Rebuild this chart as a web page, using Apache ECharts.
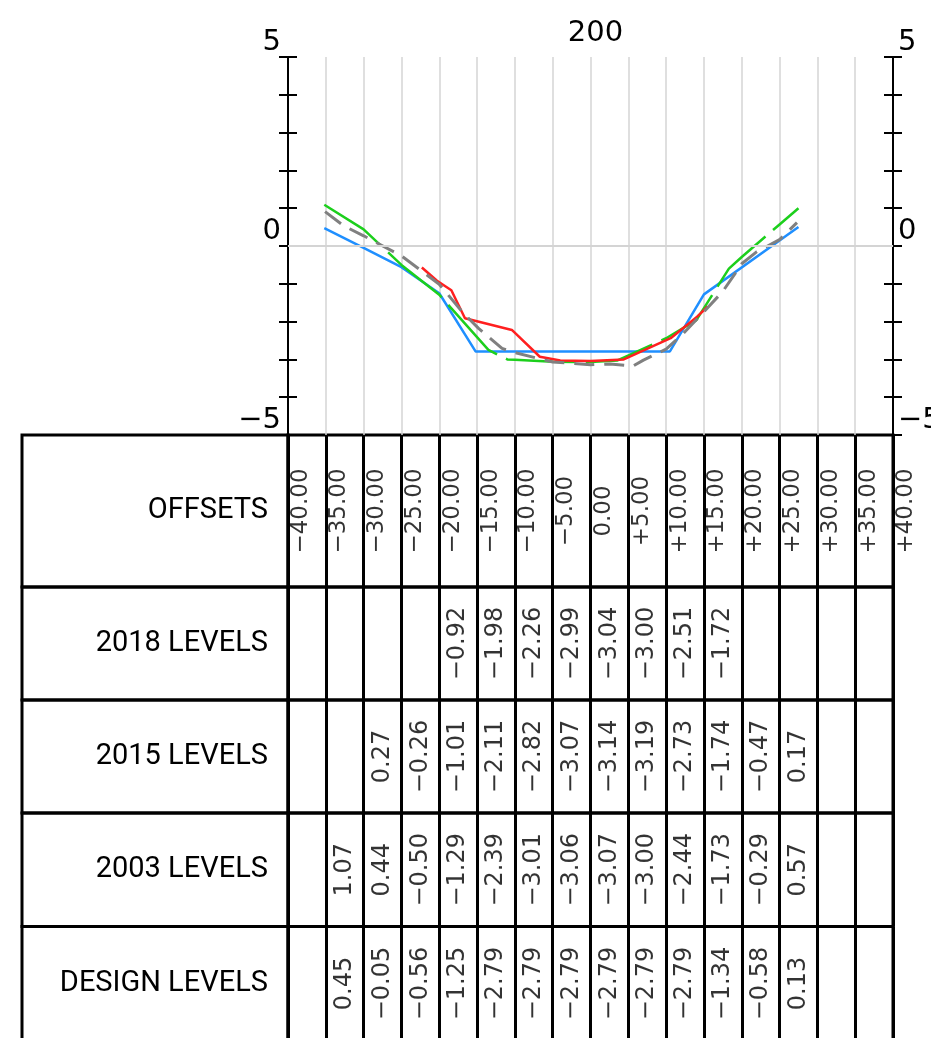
<!DOCTYPE html>
<html>
<head>
<meta charset="utf-8">
<title>Section 200</title>
<script src="https://cdn.jsdelivr.net/npm/echarts@6/dist/echarts.min.js"></script>
<style>
  html, body { margin: 0; padding: 0; background: #fff; }
  #chart { width: 931px; height: 1038px; }
</style>
</head>
<body>
<div id="chart"></div>
<script>
// chainage of the section
const sectionName = '200'

// offsets along the section (m), one table column between each pair
const offsets = [-40, -35, -30, -25, -20, -15, -10, -5, 0, 5, 10, 15, 20, 25, 30, 35, 40]
const yLabelValues = [-5, 0, 5]

// table values, one per column (-40 ... +35), null = blank cell
const levels2018 = [null, null, null, null, -0.92, -1.98, -2.26, -2.99, -3.04, -3.00, -2.51, -1.72, null, null, null, null]
const levels2015 = [null, null, 0.27, -0.26, -1.01, -2.11, -2.82, -3.07, -3.14, -3.19, -2.73, -1.74, -0.47, 0.17, null, null]
const levels2003 = [null, 1.07, 0.44, -0.50, -1.29, -2.39, -3.01, -3.06, -3.07, -3.00, -2.44, -1.73, -0.29, 0.57, null, null]
const levelsDesign = [null, 0.45, -0.05, -0.56, -1.25, -2.79, -2.79, -2.79, -2.79, -2.79, -2.79, -1.34, -0.58, 0.13, null, null]

// profiles as drawn [offset, level]
const profileDesign = [[-35.2, 0.47], [-30, -0.05], [-25, -0.56], [-20, -1.25], [-15.2, -2.79], [10.5, -2.79], [15, -1.28], [27.5, 0.5]]
const profile2003 = [[-35.2, 1.09], [-30, 0.44], [-25, -0.50], [-20, -1.29], [-13.5, -2.75], [-11, -3.0], [-10, -3.01], [-5, -3.06], [0, -3.07], [3.5, -3.03], [10, -2.44], [14, -1.96], [18.3, -0.6], [20, -0.29], [25, 0.57], [27.5, 1.0]]
const profile2018 = [[-22.3, -0.57], [-20.3, -0.92], [-18.4, -1.17], [-16.6, -1.91], [-10.4, -2.22], [-6.7, -2.93], [-4.0, -3.03], [0, -3.04], [4.4, -3.0], [10.6, -2.44], [14.1, -1.87], [15.5, -1.6]]
const profile2015 = [[-35.1, 0.91], [-32.6, 0.53], [-30, 0.27], [-25, -0.26], [-20, -1.01], [-16.8, -1.78], [-14.8, -2.18], [-11.7, -2.71], [-10, -2.82], [-5, -3.07], [0, -3.14], [2.6, -3.12], [5.6, -3.18], [7, -3.02], [10, -2.73], [12.3, -2.31], [15, -1.74], [17.5, -1.2], [20, -0.47], [22, -0.15], [25, 0.17], [27.3, 0.62]]

const MINUS = '\u2212'
function fmtLevel(v) {
  return (v < 0 ? MINUS : '') + Math.abs(v).toFixed(2)
}
function fmtOffset(v) {
  return (v < 0 ? MINUS : v > 0 ? '+' : '') + Math.abs(v).toFixed(2)
}

const chart = echarts.init(document.getElementById('chart'), null, { renderer: 'canvas' })

// plot area
const plotLeft = 288, plotWidth = 605, plotTop = 57, plotHeight = 378

const grids = [{ left: plotLeft, top: plotTop, width: plotWidth, height: plotHeight, outerBoundsMode: 'none' }]
const xAxes = [{
  type: 'value', gridIndex: 0, min: -40, max: 40, interval: 5,
  axisLine: { show: false, onZero: false }, axisTick: { show: false }, axisLabel: { show: false },
  splitLine: { show: true, lineStyle: { color: '#d4d4d4', width: 1.5 } }
}]

function levelAxis(position, inside, main) {
  return {
    type: 'value', gridIndex: 0, position: position, min: -5, max: 5, interval: 1,
    axisLine: { show: main, onZero: false, lineStyle: { color: '#000', width: 2 } },
    axisTick: { show: true, inside: inside, length: 9, lineStyle: { color: '#000', width: 2 } },
    axisLabel: {
      show: main,
      margin: position === 'left' ? 7 : 5,
      align: position === 'left' ? 'right' : 'left',
      verticalAlign: 'bottom',
      lineHeight: 30,
      fontFamily: 'DejaVu Sans', fontSize: 29, color: '#000',
      formatter: function (v) {
        return yLabelValues.indexOf(v) >= 0 ? (v < 0 ? MINUS + Math.abs(v) : String(v)) : ''
      }
    },
    splitLine: { show: false }
  }
}
const yAxes = [levelAxis('left', false, true), levelAxis('left', true, false),
  levelAxis('right', false, true), levelAxis('right', true, false)]

function profileSeries(name, data, color, width, type) {
  return {
    name: name, type: 'line', xAxisIndex: 0, yAxisIndex: 0, data: data,
    showSymbol: false, symbol: 'none', silent: true,
    lineStyle: { color: color, width: width, type: type }
  }
}

const series = [
  profileSeries('DESIGN', profileDesign, '#1f8fff', 2.5, 'solid'),
  profileSeries('2003', profile2003, '#1ccf1c', 2.5, [70, 10]),
  profileSeries('2018', profile2018, '#ff1f1f', 2.5, 'solid'),
  profileSeries('2015', profile2015, '#808080', 3, [20, 10])
]
series[0].markLine = {
  silent: true, symbol: 'none', label: { show: false },
  lineStyle: { color: '#d4d4d4', width: 2, type: 'solid' },
  data: [{ yAxis: 0 }]
}

// table under the plot
const columns = offsets.slice(0, offsets.length - 1)
const rows = [
  { name: 'OFFSETS', values: null, top: 435, height: 152 },
  { name: '2018 LEVELS', values: levels2018, top: 587, height: 113 },
  { name: '2015 LEVELS', values: levels2015, top: 700, height: 113 },
  { name: '2003 LEVELS', values: levels2003, top: 813, height: 113.5 },
  { name: 'DESIGN LEVELS', values: levelsDesign, top: 926.5, height: 114 }
]

rows.forEach(function (row) {
  const dataGrid = grids.length
  grids.push({ left: plotLeft, top: row.top, width: plotWidth, height: row.height, show: true,
    borderColor: '#000', borderWidth: 3, outerBoundsMode: 'none' })
  const nameGrid = grids.length
  grids.push({ left: 22, top: row.top, width: plotLeft - 22, height: row.height, show: true,
    borderColor: '#000', borderWidth: 3, outerBoundsMode: 'none' })

  const xi = xAxes.length
  if (row.values === null) {
    xAxes.push({
      type: 'value', gridIndex: dataGrid, min: -40, max: 40, interval: 5,
      axisLine: { show: false, onZero: false }, axisTick: { show: false }, axisLabel: { show: false },
      splitLine: { show: true, lineStyle: { color: '#000', width: 3 } }
    })
  } else {
    xAxes.push({
      type: 'category', gridIndex: dataGrid, data: columns, boundaryGap: true,
      axisLine: { show: false, onZero: false }, axisTick: { show: false, interval: 0 }, axisLabel: { show: false },
      splitLine: { show: true, interval: 0, lineStyle: { color: '#000', width: 3 } }
    })
  }
  xAxes.push({ type: 'value', gridIndex: nameGrid, show: false })

  const yi = yAxes.length
  yAxes.push({
    type: 'category', gridIndex: dataGrid, data: [row.name],
    axisLine: { show: false, onZero: false }, axisTick: { show: false },
    axisLabel: { margin: 20, fontFamily: 'Roboto', fontSize: 29, color: '#000' },
    splitLine: { show: false }
  })
  yAxes.push({ type: 'value', gridIndex: nameGrid, show: false })

  let cells
  if (row.values === null) {
    cells = offsets.map(function (o) { return [o, 0, fmtOffset(o)] })
  } else {
    cells = []
    row.values.forEach(function (v, i) {
      if (v !== null) cells.push([i, 0, fmtLevel(v)])
    })
  }
  const isOffsets = row.values === null
  series.push({
    name: row.name, type: 'scatter', xAxisIndex: xi, yAxisIndex: yi, data: cells,
    symbolSize: 1, silent: true, clip: false,
    itemStyle: { color: 'rgba(0,0,0,0)' },
    label: {
      show: true, position: 'inside', rotate: 90,
      align: 'center', verticalAlign: isOffsets ? 'top' : 'middle',
      padding: isOffsets ? [2, 0, 0, 0] : 0,
      lineHeight: isOffsets ? 23 : 24, fontFamily: 'DejaVu Sans', fontSize: isOffsets ? 23 : 24, color: '#000',
      formatter: function (p) { return p.value[2] }
    }
  })
})

chart.setOption({
  animation: false,
  backgroundColor: '#fff',
  title: {
    text: sectionName, left: plotLeft + plotWidth / 2, top: 13, textAlign: 'center',
    textStyle: { fontFamily: 'DejaVu Sans', fontSize: 29, fontWeight: 'normal', color: '#000', lineHeight: 30 }
  },
  grid: grids,
  xAxis: xAxes,
  yAxis: yAxes,
  series: series
})
</script>
</body>
</html>
